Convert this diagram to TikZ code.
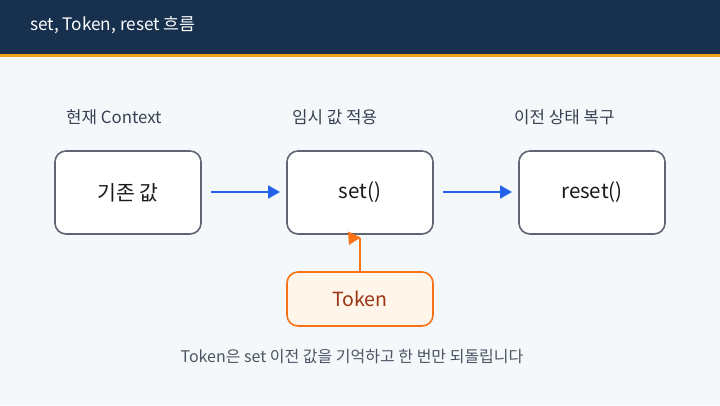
\documentclass[tikz,border=0pt]{standalone}
\usepackage{fontspec}
\setmainfont{Noto Sans CJK KR}
\usetikzlibrary{arrows.meta}
\definecolor{navy}{HTML}{17304D}
\definecolor{bar}{HTML}{F2A01E}
\definecolor{bg}{HTML}{F5F8FB}
\definecolor{boxline}{HTML}{5F6673}
\definecolor{blueA}{HTML}{2563EB}
\definecolor{orangeA}{HTML}{F97316}
\definecolor{tokfill}{HTML}{FFF5EB}
\definecolor{toktext}{HTML}{9A3412}
\definecolor{lbl}{HTML}{374151}
\definecolor{note}{HTML}{4B5563}
\tikzset{
  stepbox/.style={draw=boxline, line width=1.6pt, fill=white, rounded corners=11pt,
    minimum width=146pt, minimum height=83pt, inner sep=0pt, font=\fontsize{20.5}{23}\selectfont, text=black!90},
  tokbox/.style={draw=orangeA, line width=1.6pt, fill=tokfill, rounded corners=11pt,
    minimum width=146pt, minimum height=54pt, inner sep=0pt, font=\fontsize{19.5}{22}\selectfont, text=toktext},
  steplabel/.style={anchor=west, inner sep=0pt, font=\fontsize{16.8}{19}\selectfont, text=lbl},
  flow/.style={draw=blueA, line width=2.4pt, -{Triangle[length=12pt,width=13pt]}},
}
\begin{document}
\begin{tikzpicture}[x=1pt,y=-1pt]
\useasboundingbox (0,0) rectangle (720,405);
\fill[bg] (0,0) rectangle (720,405);
\fill[navy] (0,0) rectangle (720,53.5);
\fill[bar] (0,53.5) rectangle (720,56.5);
\node[anchor=west, inner sep=0pt, text=white, font=\fontsize{17.2}{20}\selectfont] (title) at (30,25) {set, Token, reset 흐름};

\node[steplabel] (l1) at (66,117) {현재 Context};
\node[steplabel] (l2) at (292,117) {임시 값 적용};
\node[steplabel] (l3) at (514,117) {이전 상태 복구};

\node[stepbox] (b1) at (128,192.5) {기존 값};
\node[stepbox] (b2) at (360,192.5) {set()};
\node[stepbox] (b3) at (592,192.5) {reset()};

\node[tokbox] (tok) at (360,299) {Token};

\coordinate (a1s) at (211,192);
\coordinate (a1e) at (280,192);
\coordinate (a2s) at (443,192);
\coordinate (a2e) at (512,192);
\draw[flow] (a1s) -- (a1e);
\draw[flow] (a2s) -- (a2e);

\coordinate (ot) at (359.5,238);
\draw[draw=orangeA, line width=2pt] (tok.north -| ot) -- (ot);
\fill[orangeA] (348,231.5) -- (360.5,237.5) -- (349,245) -- cycle;

\node[inner sep=0pt, text=note, font=\fontsize{16}{19}\selectfont] (foot) at (352,357) {Token은 set 이전 값을 기억하고 한 번만 되돌립니다};
\end{tikzpicture}
\end{document}
